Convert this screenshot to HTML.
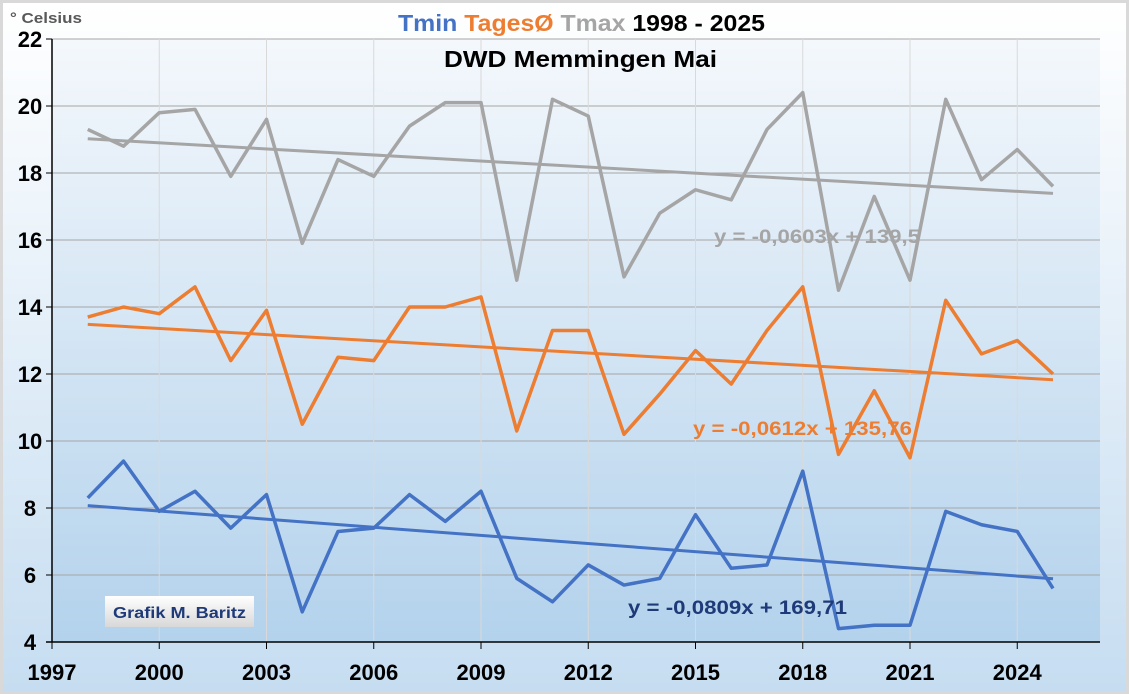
<!DOCTYPE html>
<html><head><meta charset="utf-8"><style>
html,body{margin:0;padding:0;width:1129px;height:694px;overflow:hidden;}
svg{display:block;font-family:"Liberation Sans",sans-serif;}
</style></head><body>
<svg id="chart" width="1129" height="694">
<defs>
<linearGradient id="bg" x1="0" y1="0" x2="0" y2="1"><stop offset="0" stop-color="#ffffff"/><stop offset="1" stop-color="#c6ddf1"/></linearGradient>
<linearGradient id="pbg" x1="0" y1="0" x2="0" y2="1"><stop offset="0" stop-color="#f4f8fc"/><stop offset="1" stop-color="#b3d2ec"/></linearGradient>
<linearGradient id="lbl" x1="0" y1="0" x2="0" y2="1"><stop offset="0" stop-color="#ffffff"/><stop offset="1" stop-color="#d8d8d8"/></linearGradient>
</defs>
<rect x="0" y="0" width="1129" height="694" fill="#d9d9d9"/>
<rect x="3" y="3" width="1123" height="688" fill="url(#bg)"/>
<rect x="52" y="39" width="1048" height="603" fill="url(#pbg)"/>
<g id="grid"></g>
<g id="series"></g>
<g id="axes"></g>
<text x="10" y="23" font-size="15" font-weight="bold" fill="#595959" textLength="72" lengthAdjust="spacingAndGlyphs">° Celsius</text>
<text x="398" y="31" font-size="23" font-weight="bold" textLength="367" lengthAdjust="spacingAndGlyphs"><tspan fill="#4472c4">Tmin</tspan> <tspan fill="#ed7d31">TagesØ</tspan> <tspan fill="#a5a5a5">Tmax</tspan> <tspan fill="#000">1998 - 2025</tspan></text>
<text x="444" y="67" font-size="23" font-weight="bold" fill="#000" textLength="273" lengthAdjust="spacingAndGlyphs">DWD Memmingen Mai</text>
<text x="714" y="243" font-size="19" font-weight="bold" fill="#a5a5a5" textLength="206" lengthAdjust="spacingAndGlyphs">y = -0,0603x + 139,5</text>
<text x="693" y="435" font-size="19" font-weight="bold" fill="#ed7d31" textLength="219" lengthAdjust="spacingAndGlyphs">y = -0,0612x + 135,76</text>
<text x="628" y="614" font-size="19" font-weight="bold" fill="#1f3a78" textLength="219" lengthAdjust="spacingAndGlyphs">y = -0,0809x + 169,71</text>
<rect x="105" y="596" width="149" height="31" fill="url(#lbl)"/>
<text x="113" y="618" font-size="16" font-weight="bold" fill="#1f3a78" textLength="133" lengthAdjust="spacingAndGlyphs">Grafik M. Baritz</text>
</svg>
<script>
const years=[1998,1999,2000,2001,2002,2003,2004,2005,2006,2007,2008,2009,2010,2011,2012,2013,2014,2015,2016,2017,2018,2019,2020,2021,2022,2023,2024,2025];
const tmax=[19.3,18.8,19.8,19.9,17.9,19.6,15.9,18.4,17.9,19.4,20.1,20.1,14.8,20.2,19.7,14.9,16.8,17.5,17.2,19.3,20.4,14.5,17.3,14.8,20.2,17.8,18.7,17.6];
const tmean=[13.7,14.0,13.8,14.6,12.4,13.9,10.5,12.5,12.4,14.0,14.0,14.3,10.3,13.3,13.3,10.2,11.4,12.7,11.7,13.3,14.6,9.6,11.5,9.5,14.2,12.6,13.0,12.0];
const tmin=[8.3,9.4,7.9,8.5,7.4,8.4,4.9,7.3,7.4,8.4,7.6,8.5,5.9,5.2,6.3,5.7,5.9,7.8,6.2,6.3,9.1,4.4,4.5,4.5,7.9,7.5,7.3,5.6];
const trendSlopes=[-0.0603,-0.0612,-0.0809];
const trendIntercepts=[139.5,135.76,169.71];
const yTicks=[4,6,8,10,12,14,16,18,20,22];
const xTicks=[1997,2000,2003,2006,2009,2012,2015,2018,2021,2024];
const NS="http://www.w3.org/2000/svg";
const X=v=>52+(v-1997)*35.75;
const Y=v=>642-(v-4)*33.5;
function mk(tag,attrs,parent){const e=document.createElementNS(NS,tag);for(const k in attrs)e.setAttribute(k,attrs[k]);document.getElementById(parent).appendChild(e);return e;}
yTicks.forEach(t=>{
 if(t>4){const l=mk('line',{x1:52,x2:1100,y1:Y(t),y2:Y(t),stroke:'#a6a6a6','stroke-width':1},'grid');
 
 }
 const tk=mk('line',{x1:46,x2:52,y1:Y(t),y2:Y(t),stroke:'#000'},'axes');
 
 
 const tx=mk('text',{x:30,y:Y(t)+8,'font-size':22,'font-weight':'bold','text-anchor':'middle',fill:'#000'},'axes');
 tx.textContent=t;
 
 
});
xTicks.forEach(t=>{
 if(t>1997){const l=mk('line',{x1:X(t),x2:X(t),y1:39,y2:642,stroke:'#d9d9d9','stroke-width':1},'grid');
 
 }
 const tk=mk('line',{x1:X(t),x2:X(t),y1:642,y2:649,stroke:'#000'},'axes');
 
 
 const tx=mk('text',{x:X(t),y:680,'font-size':22,'font-weight':'bold','text-anchor':'middle',fill:'#000'},'axes');
 tx.textContent=t;
 
 
});
const ax1=mk('line',{x1:52,x2:52,y1:39,y2:642,stroke:'#000','stroke-width':1.5},'axes');


const ax2=mk('line',{x1:46,x2:1100,y1:642,y2:642,stroke:'#000','stroke-width':1.5},'axes');


const seriesList=[[tmax,'#a5a5a5','tmax'],[tmean,'#ed7d31','tmean'],[tmin,'#4472c4','tmin']];
seriesList.forEach((s,i)=>{
 const y0=trendIntercepts[i]+trendSlopes[i]*years[0], y1=trendIntercepts[i]+trendSlopes[i]*years[years.length-1];
 const tr=mk('line',{x1:X(years[0]),y1:Y(y0),x2:X(years[years.length-1]),y2:Y(y1),stroke:s[1],'stroke-width':3},'series');
 
 
 const p=mk('polyline',{points:s[0].map((v,j)=>X(years[j])+','+Y(v)).join(' '),fill:'none',stroke:s[1],'stroke-width':3.5,'stroke-linejoin':'round'},'series');
 
 
});
</script>
</body></html>
